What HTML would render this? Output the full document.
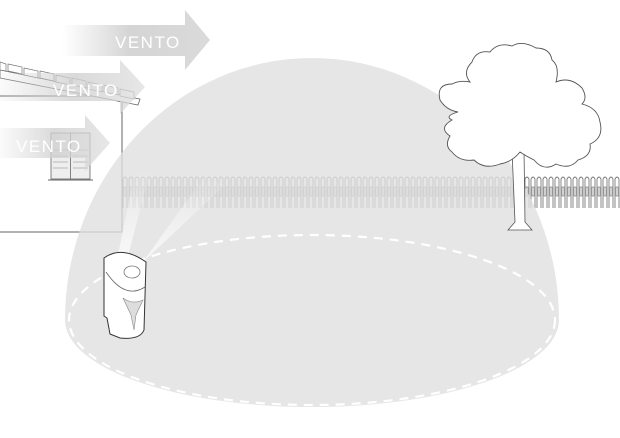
<!DOCTYPE html>
<html><head><meta charset="utf-8"><style>
html,body{margin:0;padding:0;background:#fff;}
svg{display:block;}
text{font-family:"Liberation Sans",sans-serif;}
</style></head><body>
<svg width="620" height="438" viewBox="0 0 620 438" xmlns="http://www.w3.org/2000/svg">
<defs>
<linearGradient id="ga" x1="0" x2="1" y1="0" y2="0">
<stop offset="0" stop-color="#d4d4d4" stop-opacity="0"/>
<stop offset="0.45" stop-color="#d0d0d0" stop-opacity="0.9"/>
<stop offset="1" stop-color="#d6d6d6" stop-opacity="0.9"/>
</linearGradient>
<linearGradient id="gb" x1="0" x2="1" y1="0" y2="0">
<stop offset="0" stop-color="#d4d4d4" stop-opacity="0.1"/>
<stop offset="0.5" stop-color="#d0d0d0" stop-opacity="0.8"/>
<stop offset="1" stop-color="#dcdcdc" stop-opacity="0.7"/>
</linearGradient>
<pattern id="fence" x="122" y="175" width="6" height="34" patternUnits="userSpaceOnUse">
<path d="M1,33 V4 Q3,0 5,4 V33" fill="#fff" stroke="#555" stroke-width="0.7"/>
<rect x="2" y="12" width="2" height="9" fill="none" stroke="#666" stroke-width="0.6"/>
</pattern>
<linearGradient id="beam" x1="0" x2="0" y1="1" y2="0">
<stop offset="0" stop-color="#fff" stop-opacity="0.9"/>
<stop offset="1" stop-color="#fff" stop-opacity="0"/>
</linearGradient>
</defs>

<!-- house -->
<rect x="-2" y="96" width="124" height="136" fill="#fff" stroke="#666" stroke-width="1"/>
<path d="M0,70 L140,99 L138,105 L0,78 Z" fill="#fff" stroke="#666" stroke-width="0.8"/>
<g fill="#fff" stroke="#777" stroke-width="0.7">
<path d="M0,62 L6,64 L6,71 L0,70 Z"/>
<path d="M8,64 L22,67 L22,74 L8,71 Z"/>
<path d="M24,68 L38,71 L38,78 L24,75 Z"/>
<path d="M40,71 L54,74 L54,81 L40,78 Z"/>
<path d="M56,75 L70,78 L70,85 L56,82 Z"/>
<path d="M72,78 L86,81 L86,88 L72,85 Z"/>
<path d="M88,82 L102,85 L102,92 L88,89 Z"/>
<path d="M104,85 L118,88 L118,95 L104,92 Z"/>
<path d="M120,89 L134,92 L134,99 L120,96 Z"/>
</g>
<!-- window -->
<rect x="51" y="133" width="39" height="46" fill="#eee" stroke="#666" stroke-width="0.8"/>
<line x1="70.5" y1="133" x2="70.5" y2="179" stroke="#666" stroke-width="0.8"/>
<g stroke="#999" stroke-width="0.6">
<line x1="53" y1="150" x2="68" y2="150"/><line x1="73" y1="150" x2="88" y2="150"/>
<line x1="53" y1="156" x2="68" y2="156"/><line x1="73" y1="156" x2="88" y2="156"/>
<line x1="53" y1="162" x2="68" y2="162"/><line x1="73" y1="162" x2="88" y2="162"/>
<line x1="53" y1="168" x2="68" y2="168"/><line x1="73" y1="168" x2="88" y2="168"/>
</g>
<line x1="48" y1="180" x2="93" y2="180" stroke="#666" stroke-width="1"/>

<!-- fence -->
<rect x="122" y="175" width="498" height="34" fill="url(#fence)"/>

<!-- dome -->
<path d="M65,320 A247,262 0 0 1 559,320 A247,87 0 0 1 65,320 Z" fill="#e0e0e0" fill-opacity="0.8"/>
<ellipse cx="312" cy="320" rx="243" ry="85" fill="none" stroke="#fff" stroke-width="2.2" stroke-dasharray="9,7"/>

<!-- beams -->
<path d="M118,255 L135,170 L150,172 L128,256 Z" fill="url(#beam)" opacity="0.8"/>
<path d="M143,262 L205,175 L225,185 Z" fill="url(#beam)" opacity="0.8"/>

<!-- tree -->
<path d="M512,150 L515,222 L508,230 L532,230 L525,222 L524,150 Z" fill="#fff" stroke="#555" stroke-width="0.8"/>
<path d="M472,62 Q476,50 490,52 Q498,42 512,46 Q522,40 536,48 Q550,48 552,60 Q560,66 556,82 Q570,76 582,88 Q588,98 582,104 Q598,108 600,122 Q604,138 590,144 Q592,156 578,160 Q570,170 556,164 Q544,172 534,160 Q526,156 520,152 Q512,162 500,164 Q484,170 474,160 Q460,162 452,152 Q444,146 450,136 Q438,128 452,120 Q444,116 458,112 Q446,110 440,100 Q436,84 452,84 Q460,80 470,82 Q462,72 472,62 Z" fill="#fff" stroke="#555" stroke-width="0.9"/>

<!-- device -->
<path d="M104,258 Q122,245 146,262 L144,330 Q140,340 120,338 L110,334 L107,318 L104,316 Z" fill="#fff" stroke="#333" stroke-width="1"/>
<path d="M106,272 Q125,300 145,287" fill="none" stroke="#666" stroke-width="0.8"/>
<ellipse cx="132" cy="272" rx="8" ry="6" fill="none" stroke="#777" stroke-width="0.8"/>
<path d="M123,298 Q132,305 143,300 L136,315 L134,330 L131,315 Z" fill="#ddd" stroke="#888" stroke-width="0.6"/>

<!-- arrows -->
<path d="M62,25 L185,25 L185,10 L210,40 L185,70 L185,56 L62,56 Z" fill="url(#ga)"/>
<text x="115" y="48" font-size="17" fill="#fff" letter-spacing="1.5">VENTO</text>
<path d="M0,73 L120,73 L120,60 L145,87 L120,114 L120,101 L0,101 Z" fill="url(#gb)"/>
<text x="53" y="96" font-size="17" fill="#fff" letter-spacing="1.5">VENTO</text>
<path d="M0,128 L85,128 L85,115 L110,143 L85,171 L85,158 L0,158 Z" fill="url(#gb)"/>
<text x="16" y="152" font-size="17" fill="#fff" letter-spacing="1.5">VENTO</text>
</svg>
</body></html>
